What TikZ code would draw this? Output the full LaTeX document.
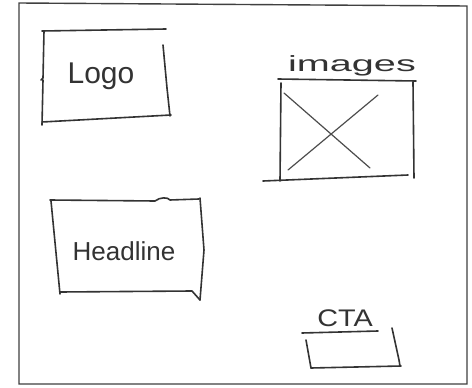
\documentclass[tikz,border=0pt]{standalone}
\usepackage{fontspec}
\setmainfont{Liberation Sans}
\begin{document}
\begin{tikzpicture}[x=1pt,y=-1pt,
  ink/.style={draw=black!80, line width=1.6pt, line cap=round, line join=round},
  thin ink/.style={draw=black!70, line width=1.2pt, line cap=round},
  label/.style={text=black!80, inner sep=0pt}]
\useasboundingbox (0,0) rectangle (472,388);
\fill[white] (0,0) rectangle (472,388);
% outer frame
\draw[draw=black!75, line width=1.4pt] (19,3) -- (467,6) -- (467,384) -- (19,384) -- cycle;
% Logo box
\draw[ink] (42,31) -- (166,29);
\draw[ink] (44,31) -- (43,78) -- (41,80) (43,80) -- (42,125);
\draw[ink] (42,122) -- (171,115);
\draw[ink] (163,45) -- (167,88) -- (170,116);
\node[label, font=\fontsize{30}{30}\selectfont] (logo) at (101,76) {Logo};
% images box
\node[label, font=\fontsize{22}{22}\selectfont, xscale=1.8] (images) at (352,66) {images};
\draw[ink] (278,79) -- (416,81);
\draw[ink] (281,83) -- (280,181);
\draw[ink] (413,82) -- (414,178);
\draw[ink] (263,181) -- (408,175);
\draw[thin ink] (284,93) -- (370,168);
\draw[thin ink] (288,170) -- (378,95);
% Headline box
\draw[ink] (50,200) -- (155,201) .. controls (160,197) and (168,197) .. (170,200) -- (199,199);
\draw[ink] (51,201) -- (60,294);
\draw[ink] (200,198) -- (204,250) -- (200,300);
\draw[ink] (60,292) -- (192,291) -- (200,300);
\node[label, font=\fontsize{26}{26}\selectfont] (headline) at (124,251) {Headline};
% CTA
\node[label, font=\fontsize{24}{24}\selectfont, xscale=1.2] (cta) at (345,318) {CTA};
\draw[ink] (302,333) -- (378,331);
\draw[ink] (306,340) -- (311,368);
\draw[ink] (311,368) -- (401,366);
\draw[ink] (392,328) -- (399,360) -- (400,366);
\end{tikzpicture}
\end{document}
